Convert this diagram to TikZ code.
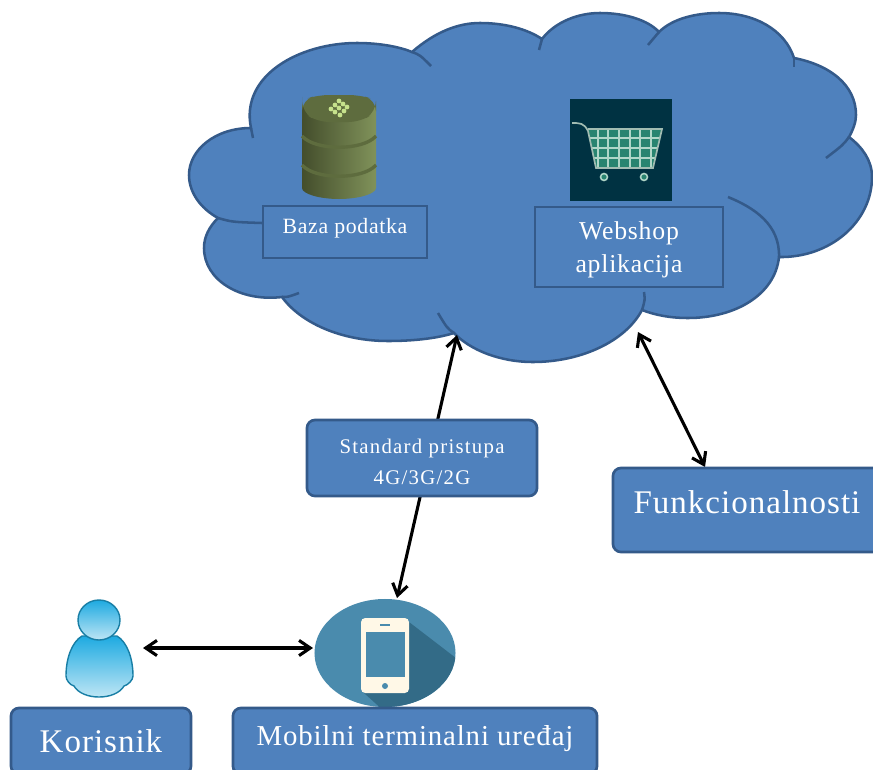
\documentclass[tikz,border=0pt]{standalone}
\usepackage{fontspec}
\setmainfont{Liberation Serif}
\usepackage{xcolor}
\definecolor{blau_cloud}{RGB}{79,129,189}
\definecolor{blau_line}{RGB}{52,90,138}
\definecolor{blau_phone}{RGB}{74,139,173}
\definecolor{blau_shadow}{RGB}{51,107,135}
\definecolor{cream_phone}{RGB}{255,248,231}
\definecolor{olive_dark}{RGB}{68,78,44}
\definecolor{olive_light}{RGB}{128,146,90}
\definecolor{olive_top}{RGB}{94,108,62}
\definecolor{olive_mark}{RGB}{198,226,140}
\definecolor{cart_back}{RGB}{0,50,66}
\definecolor{cart_fill}{RGB}{40,132,112}
\definecolor{cart_line}{RGB}{176,214,200}
\definecolor{user_dark}{RGB}{24,126,165}
\definecolor{user_mid}{RGB}{30,170,225}
\definecolor{user_light}{RGB}{190,230,245}
\usetikzlibrary{positioning}
\usetikzlibrary{shapes.geometric}
\usetikzlibrary{arrows.meta}
\newcommand{\movetext}[2]{\raisebox{#1}[\height][\depth]{#2}}
\tikzset{
  cloudline/.style={draw=blau_line, line width=1.8pt},
  flatbox/.style={draw=blau_line, line width=1.9pt, fill=blau_cloud, text=white, align=center, inner sep=0pt},
  roundbox/.style={flatbox, rounded corners=.2cm},
  twoway/.style={{Straight Barb[length=2.8mm, width=3.8mm]}-{Straight Barb[length=2.8mm, width=3.8mm]}, line width=2.2pt, black},
}
\begin{document}
\begin{tikzpicture}[x=.025cm, y=-.025cm]
\clip (0,0) rectangle (873,769);
\fill[white] (0,0) rectangle (873,769);
% --- cloud
\draw[cloudline, fill=blau_cloud] (251,128) .. controls (240,75) and (300,43) .. (357,43)
  .. controls (380,43) and (400,47) .. (412,52)
  .. controls (435,32) and (458,23) .. (480,23)
  .. controls (505,23) and (527,29) .. (542,39)
  .. controls (555,22) and (578,13) .. (600,13)
  .. controls (625,13) and (648,20) .. (659,32)
  .. controls (672,19) and (695,13) .. (719,13)
  .. controls (755,13) and (785,30) .. (794,58)
  .. controls (830,65) and (856,85) .. (856,115)
  .. controls (856,122) and (853,130) .. (849,137)
  .. controls (862,147) and (872,160) .. (872,177)
  .. controls (872,222) and (830,258) .. (779,257)
  .. controls (775,295) and (735,318) .. (688,318)
  .. controls (670,318) and (655,315) .. (642,310)
  .. controls (625,342) and (580,362) .. (533,362)
  .. controls (500,362) and (470,350) .. (454,333)
  .. controls (435,339) and (410,341) .. (388,341)
  .. controls (340,341) and (300,322) .. (282,297)
  .. controls (240,302) and (204,280) .. (204,248)
  .. controls (204,237) and (209,227) .. (218,218)
  .. controls (200,208) and (189,192) .. (189,175)
  .. controls (189,150) and (215,128) .. (251,128) -- cycle;
\draw[cloudline] (412,52) .. controls (420,55) .. (431,66);
\draw[cloudline] (251,128) -- (253,138);
\draw[cloudline] (218,218) .. controls (232,222) .. (262,223);
\draw[cloudline] (282,297) .. controls (288,297) .. (299,293);
\draw[cloudline] (454,333) .. controls (447,328) .. (438,313);
\draw[cloudline] (642,310) .. controls (645,300) .. (644,292);
\draw[cloudline] (542,39) -- (539,50);
\draw[cloudline] (659,32) -- (648,45);
\draw[cloudline] (794,58) -- (794,67);
\draw[cloudline] (849,137) .. controls (843,145) .. (826,158);
\draw[cloudline] (779,257) .. controls (780,225) and (755,208) .. (728,197);
% --- database
\shade[left color=olive_dark, right color=olive_light] (302,106) -- (376,106) -- (376,188)
  .. controls (376,194) and (358,199) .. (339,199) .. controls (320,199) and (302,194) .. (302,188) -- cycle;
\fill[olive_top, rounded corners=8pt] (302,108) -- (302,100) -- (318,95) -- (360,95) -- (376,100) -- (376,112) -- (360,122) -- (318,122) -- (302,112) -- cycle;
\draw[olive_top, line width=2.4pt] (302,136) .. controls (315,151) and (363,151) .. (376,136);
\draw[olive_top, line width=2.4pt] (302,165) .. controls (315,180) and (363,180) .. (376,165);
\foreach \a/\b in {331/109, 335/105, 339/101, 335/112, 339/108, 343/104, 340/115, 344/111, 347/107}
  \fill[olive_mark] (\a,\b) circle [radius=2.4];
% --- cart
\fill[cart_back] (570,99) rectangle (672,201);
\begin{scope}
\clip (588,129) -- (662,129) -- (653,168) -- (596,168) -- cycle;
\fill[cart_fill] (580,125) rectangle (670,170);
\foreach \a in {598,608,619,630,640,651}
  \draw[cart_line, line width=.9pt] (\a,125) -- (\a,170);
\foreach \b in {138,148,158}
  \draw[cart_line, line width=.9pt] (580,\b) -- (670,\b);
\end{scope}
\draw[cart_line!70!gray, line width=1.2pt] (572,123) .. controls (580,123) and (584,123) .. (588,131) -- (596,168) -- (653,168) -- (662,129) -- (588,129);
\foreach \a in {604,644} {
  \draw[cart_line, line width=1.1pt, fill=cart_fill] (\a,177) circle [radius=3.5];
}
% --- arrows
\coordinate (CL) at (457,335);
\coordinate (CR) at (638,332);
\coordinate (FN) at (705,467);
\coordinate (MN) at (397,598);
\coordinate (UE) at (143,648);
\coordinate (MW) at (313,648);
\draw[twoway] (CL) -- (MN);
\draw[twoway] (CR) -- (FN);
\draw[twoway] (UE) -- (MW);
% --- user
\shade[top color=user_mid, bottom color=user_light, draw=user_dark, line width=1pt]
  (82,636) .. controls (72,642) and (66,658) .. (66,676) .. controls (66,680) and (70,685) .. (74,686)
  .. controls (78,693) and (88,697) .. (99,697) .. controls (110,697) and (120,693) .. (124,686)
  .. controls (128,685) and (133,680) .. (133,676) .. controls (133,658) and (127,642) .. (117,636) -- cycle;
\shade[top color=user_mid, bottom color=user_light, draw=user_dark, line width=1pt]
  (99,620) ellipse [x radius=21, y radius=20];
% --- phone
\node[ellipse, fill=blau_phone, minimum width=3.525cm, minimum height=2.7cm, inner sep=0pt] (MT) at (385,653) {};
\begin{scope}
\clip (385,653) ellipse [x radius=70.5, y radius=54];
\fill[blau_shadow] (409,622) -- (465,665) -- (465,730) -- (405,730) -- (364,693) -- cycle;
\end{scope}
\fill[cream_phone, rounded corners=3pt] (361,618) rectangle (409,693);
\fill[blau_phone] (366,632) rectangle (405,677);
\fill[blau_phone] (385,686) circle [radius=3];
\fill[blau_phone] (380,624) rectangle (390,626);
% --- labels
\node[flatbox, minimum width=4.1cm, minimum height=1.3cm, font=\fontsize{15.5pt}{18pt}\selectfont\addfontfeature{LetterSpace=3}] (BP) at (345,232)
  {\movetext{.1cm}{Baza podatka}};
\node[flatbox, minimum width=4.7cm, minimum height=2cm, font=\fontsize{18.3pt}{23.5pt}\selectfont\addfontfeature{LetterSpace=3}] (WA) at (629,247)
  {\movetext{-.07cm}{Webshop}\\ \movetext{-.07cm}{aplikacija}};
\node[roundbox, minimum width=5.75cm, minimum height=1.9cm, font=\fontsize{14.8pt}{22pt}\selectfont\addfontfeature{LetterSpace=6}] (SP) at (422,458)
  {\movetext{-.1cm}{Standard pristupa}\\ \movetext{-.1cm}{4G/3G/2G}};
\node[roundbox, minimum width=6.7cm, minimum height=2.1cm, font=\fontsize{23.5pt}{28pt}\selectfont\addfontfeature{LetterSpace=3}] (FK) at (747,510)
  {\movetext{.2cm}{Funkcionalnosti}};
\node[roundbox, minimum width=4.5cm, minimum height=1.65cm, font=\fontsize{23.5pt}{28pt}\selectfont\addfontfeature{LetterSpace=3}] (KR) at (101,741)
  {Korisnik};
\node[roundbox, minimum width=9.1cm, minimum height=1.65cm, font=\fontsize{20.5pt}{24pt}\selectfont\addfontfeature{LetterSpace=3}] (MU) at (415,741)
  {\movetext{.07cm}{Mobilni terminalni uređaj}};
\end{tikzpicture}
\end{document}
